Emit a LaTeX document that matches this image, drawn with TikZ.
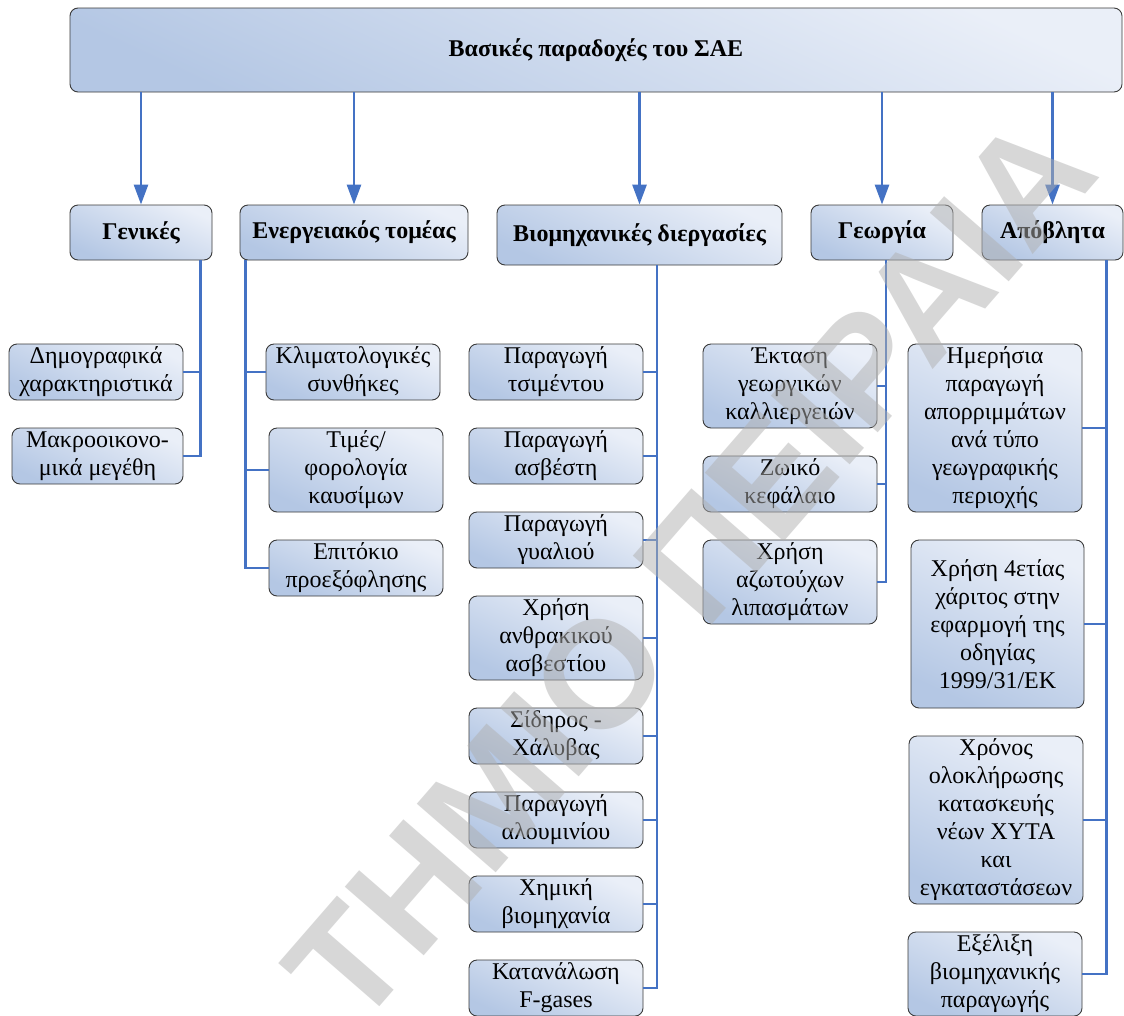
\documentclass[tikz,border=0pt]{standalone}
\usepackage{fontspec}
\setmainfont{Liberation Serif}
\newfontfamily\wmfont{Liberation Sans}
\usetikzlibrary{arrows.meta}
\definecolor{lnblue}{HTML}{4472C4}
\definecolor{bxdark}{HTML}{B4C7E4}
\definecolor{bxlight}{HTML}{EAEFF8}
\definecolor{bxedge}{HTML}{3A3A3A}
\definecolor{wmgray}{HTML}{B0B0B0}
\begin{document}
\begin{tikzpicture}[x=1pt,y=-1pt,
  box/.style={draw=bxedge, line width=0.9pt, rounded corners=8pt,
    top color=bxlight, bottom color=bxdark, shading angle=-25,
    inner sep=0pt, align=center, font=\fontsize{24}{28}\selectfont},
  hbox/.style={box, font=\fontsize{24}{28}\selectfont\bfseries},
  conn/.style={draw=lnblue, line width=2.8pt},
  arr/.style={conn, -{Triangle[length=20pt,width=14pt]}},
  wm/.style={text=wmgray, text opacity=0.5, inner sep=0pt, font=\wmfont\bfseries\fontsize{152}{152}\selectfont}
]
\useasboundingbox (0,0) rectangle (1124,1015);
\fill[white] (0,0) rectangle (1124,1015);

% top
\node[hbox, minimum width=1052pt, minimum height=84pt] (top) at (596,50) {Βασικές παραδοχές του ΣΑΕ};

% level 2
\node[hbox, minimum width=142pt, minimum height=55pt] (gen) at (141,232.5) {Γενικές};
\node[hbox, minimum width=228pt, minimum height=55pt] (ene) at (354,232.5) {Ενεργειακός τομέας};
\node[hbox, minimum width=285pt, minimum height=60pt] (bio) at (639.5,235) {Βιομηχανικές διεργασίες};
\node[hbox, minimum width=142pt, minimum height=55pt] (geo) at (882,232.5) {Γεωργία};
\node[hbox, minimum width=141pt, minimum height=55pt] (apo) at (1052.5,232.5) {Απόβλητα};

% Γενικές
\node[box, minimum width=174pt, minimum height=56pt] (dem) at (96,372) {Δημογραφικά\\χαρακτηριστικά};
\node[box, minimum width=171pt, minimum height=56pt] (mak) at (97.5,456) {Μακροοικονο-\\μικά μεγέθη};

% Ενεργειακός
\node[box, minimum width=174pt, minimum height=56pt] (kli) at (353,372) {Κλιματολογικές\\συνθήκες};
\node[box, minimum width=174pt, minimum height=84pt] (tim) at (356,470) {Τιμές/\\φορολογία\\καυσίμων};
\node[box, minimum width=174pt, minimum height=56pt] (epi) at (356,568) {Επιτόκιο\\προεξόφλησης};

% Βιομηχανικές
\node[box, minimum width=174pt, minimum height=56pt] (tsi) at (556,372) {Παραγωγή\\τσιμέντου};
\node[box, minimum width=174pt, minimum height=56pt] (asv) at (556,456) {Παραγωγή\\ασβέστη};
\node[box, minimum width=174pt, minimum height=56pt] (gya) at (556,540) {Παραγωγή\\γυαλιού};
\node[box, minimum width=174pt, minimum height=84pt] (anth) at (556,638) {Χρήση\\ανθρακικού\\ασβεστίου};
\node[box, minimum width=174pt, minimum height=56pt] (sid) at (556,736) {Σίδηρος -\\Χάλυβας};
\node[box, minimum width=174pt, minimum height=56pt] (alu) at (556,820) {Παραγωγή\\αλουμινίου};
\node[box, minimum width=174pt, minimum height=56pt] (xim) at (556,904) {Χημική\\βιομηχανία};
\node[box, minimum width=174pt, minimum height=56pt] (fga) at (556,988) {Κατανάλωση\\F-gases};

% Γεωργία
\node[box, minimum width=174pt, minimum height=84pt] (ekt) at (790,386) {Έκταση\\γεωργικών\\καλλιεργειών};
\node[box, minimum width=174pt, minimum height=56pt] (zoi) at (790,484) {Ζωικό\\κεφάλαιο};
\node[box, minimum width=174pt, minimum height=84pt] (xrl) at (790,582) {Χρήση\\αζωτούχων\\λιπασμάτων};

% Απόβλητα
\node[box, minimum width=174pt, minimum height=168pt] (hme) at (995,428) {Ημερήσια\\παραγωγή\\απορριμμάτων\\ανά τύπο\\γεωγραφικής\\περιοχής};
\node[box, minimum width=173pt, minimum height=168pt] (xrh) at (997.5,624) {Χρήση 4ετίας\\χάριτος στην\\εφαρμογή της\\οδηγίας\\1999/31/ΕΚ};
\node[box, minimum width=174pt, minimum height=168pt] (xro) at (996,820) {Χρόνος\\ολοκλήρωσης\\κατασκευής\\νέων ΧΥΤΑ\\και\\εγκαταστάσεων};
\node[box, minimum width=174pt, minimum height=84pt] (exe) at (995,974) {Εξέλιξη\\βιομηχανικής\\παραγωγής};

% arrows
\foreach \n in {gen,ene,bio,geo,apo}
  \draw[arr] (top.south -| \n.north) -- (\n.north);

% connectors
\foreach \c in {dem,mak}
  \draw[conn] ([xshift=-12pt]gen.south east) |- (\c.east);
\foreach \c in {kli,tim,epi}
  \draw[conn] ([xshift=6pt]ene.south west) |- (\c.west);
\foreach \c in {tsi,asv,gya,anth,sid,alu,xim,fga}
  \draw[conn] ([xshift=17.5pt]bio.south) |- (\c.east);
\foreach \c in {ekt,zoi,xrl}
  \draw[conn] ([xshift=4pt]geo.south) |- (\c.east);
\foreach \c in {hme,xrh,xro,exe}
  \draw[conn] ([xshift=-17pt]apo.south east) |- (\c.east);

% watermark
\node[wm, rotate=49] (wmark) at (690,570) {ΤΗΜΙΟ ΠΕΙΡΑΙΑ};
\end{tikzpicture}
\end{document}
